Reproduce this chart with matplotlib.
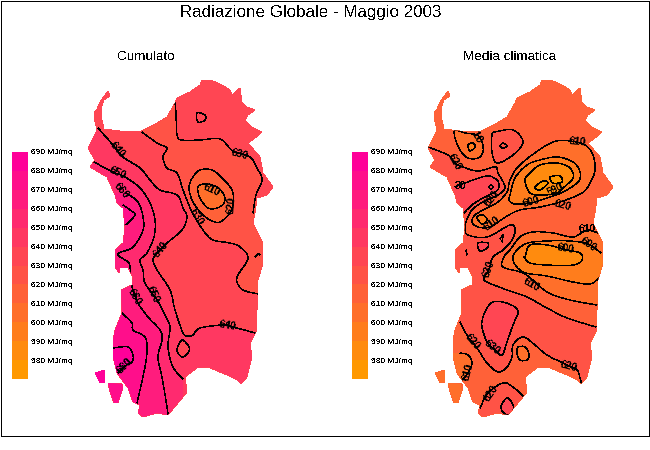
import matplotlib
matplotlib.use("Agg")
import matplotlib.pyplot as plt
from matplotlib.path import Path
from matplotlib.patches import PathPatch

plt.rcParams['font.family'] = ['Liberation Sans', 'DejaVu Sans']
plt.rcParams['text.antialiased'] = False

levels = [690, 680, 670, 660, 650, 640, 630, 620, 610, 600, 590, 580]
band_colors = ['#FF0099', '#FF0E8B', '#FF1C7D', '#FF2A6F', '#FF3861', '#FF4653',
               '#FF5346', '#FF6138', '#FF6F2A', '#FF7D1C', '#FF8B0E', '#FF9900']
band = dict(zip(levels, band_colors))

# coast
coast = [(140,132),(157,123),(167,117),(175,103),(177,98),(190,92),(200,85),(202,80),(213,81),(222,85),
         (230,90),(232,95),(240,88),(242,102),(247,107),(255,110),(248,115),(245,120),(252,127),(262,132),
         (255,138),(248,143),(260,157),(263,173),(273,187),(267,195),(257,198),(255,213),(253,223),(263,243),
         (262,257),(263,263),(258,280),(258,297),(257,310),(257,330),(250,343),(252,357),(247,377),(241,384),
         (237,380),(227,375),(208,367),(197,368),(185,377),(187,392),(168,415),(157,413),(143,417),(138,413),
         (140,405),(133,402),(128,388),(117,373),(113,357),(113,340),(115,330),(122,313),(121,290),(132,285),
         (133,277),(128,268),(120,268),(119,273),(115,267),(115,260),(115,250),(123,243),(125,227),(123,208),
         (117,203),(115,195),(107,177),(90,167),(95,160),(88,148),(97,130),(95,122),(94,113),(97,109),
         (100,102),(108,91),(110,96),(104,100),(101,108),(102,120),(104,129),(120,131)]
san_pietro = [(95,373),(105,370),(105,382),(100,383)]
sant_antioco = [(108,383),(122,384),(123,388),(118,403),(114,403),(110,392)]

# Cumulato contours
l_630_north = [(175,103),(176,113),(177,135),(182,140),(200,140),(220,139),(233,151),(250,157),(257,168),(262,180),(256,195),(253,213)]
l_630_west = [(142,132),(157,143),(167,148),(163,157),(167,168),(177,173),(182,187),(185,195),(192,212),(203,230),(213,240),(230,243),(240,247),(248,258),(238,275),(237,282),(243,290),(258,294)]
l_640 = [(98,128),(113,145),(123,157),(140,168),(150,180),(160,190),(177,195),(183,208),(187,217),(182,230),(167,243),(157,253),(153,260),(157,270),(170,290),(175,310),(183,333),(188,336),(193,335),(200,328),(223,325),(233,327),(255,333)]
l_650 = [(94,162),(113,172),(125,177),(140,188),(150,203),(155,220),(154,237),(147,253),(140,260),(143,270),(145,283),(157,300),(165,315),(170,327),(168,347),(173,367),(183,379)]
l_660 = [(126,193),(138,202),(143,217),(143,230),(133,247),(118,254),(128,262),(130,267),(132,287),(138,303),(148,317),(160,330),(162,340),(158,357),(162,377),(167,407),(168,414)]
l_670 = [(122,313),(132,323),(133,330),(145,337),(147,350),(145,367),(140,390),(137,403)]
l_670_blob = [(123,205),(133,212),(135,215),(128,223),(124,225)]
l_680 = [(113,348),(128,347),(133,355),(132,362),(125,366),(118,373)]
l_620 = [(200,170),(212,170),(222,178),(232,190),(233,203),(230,213),(220,222),(210,220),(200,212),(192,200),(189,187),(193,177)]
l_610 = [(198,187),(205,184),(217,187),(224,195),(224,203),(217,208),(208,208),(200,198)]
l_loop_se = [(182,340),(189,347),(188,353),(182,357),(177,350)]
l_loop_n = [(197,113),(205,115),(205,120),(198,122)]
l_loop_e = [(255,257),(258,254),(260,255)]

left_labels = [("640",117,150,-50),("650",118,173,-25),("660",121,191,-50),("610",212,190,-25),
               ("620",231,205,85),("630",197,217,-60),("630",240,154,-15),("640",161,249,50),
               ("660",135,297,-60),("650",153,295,-65),("640",228,326,-10),("680",125,366,45)]

# Media climatica contours
r_620_main = [(88,147),(108,155),(115,163),(123,167),(138,171),(155,167),(158,173),(165,187),(158,195),(143,202),(132,210),(126,222),(125,228),(128,235),(147,237),(170,225),(175,230),(172,240),(163,250),(153,257),(149,269),(144,278),(147,282),(167,290),(187,297),(207,308),(227,318),(256,327)]
r_620_south = [(120,322),(128,337),(137,348),(147,363),(158,372),(167,367),(172,357),(173,345),(183,337),(195,345),(207,355),(227,365),(237,370),(240,378),(242,385)]
r_620_tip = [(140,408),(148,393),(163,383),(173,387),(185,398)]
r_loop_a = [(152,135),(155,132),(173,130),(183,142),(173,155),(157,163),(152,152)]
r_loop_a_in = [(160,146),(163,143),(167,146),(163,148)]
r_630_west = [(115,187),(133,180),(148,176),(157,180),(159,187),(155,192),(143,198),(132,205),(124,213)]
r_630_tiny = [(149,187),(151,185),(153,187),(151,189)]
r_630_small = [(138,243),(148,243),(147,248),(140,251)]
r_630_pink = [(153,302),(163,302),(175,307),(178,313),(173,325),(167,342),(162,355),(155,350),(147,342),(142,327),(143,317),(147,308)]
r_630_tip = [(167,398),(173,405),(172,413),(165,414),(161,407)]
r_610_nw = [(115,130),(115,138),(120,150),(128,158),(138,158),(143,152),(142,142),(137,135),(125,133)]
r_600_nw = [(128,145),(133,143),(135,147),(130,151)]
r_610_big = [(230,141),(245,145),(253,155),(255,170),(250,183),(242,193),(220,202),(200,207),(180,210),(167,216),(150,227),(138,227),(132,222),(135,215),(147,208),(158,202),(167,192),(170,180),(177,168),(192,155),(213,142)]
r_600_ne = [(170,195),(175,178),(187,165),(200,160),(217,157),(233,162),(240,172),(238,182),(223,192),(207,198),(191,203),(175,204),(169,200)]
r_590_ne = [(185,180),(190,173),(200,165),(217,163),(230,168),(233,178),(223,188),(217,193),(203,195),(190,193)]
r_580_a = [(195,187),(203,181),(208,183),(200,190)]
r_580_b = [(210,177),(220,176),(222,182),(213,183)]
r_600_west = [(137,217),(143,215),(147,220),(142,224)]
r_610_south = [(258,233),(247,230),(233,237),(213,233),(193,232),(180,237),(170,250),(164,257),(163,267),(185,274),(207,292),(230,300),(257,305)]
r_600_south = [(261,253),(248,244),(230,241),(207,241),(188,243),(177,250),(173,260),(183,272),(207,276),(233,282),(250,284),(259,278)]
r_590_south = [(185,257),(190,245),(207,245),(227,250),(240,253),(242,260),(233,265),(207,265),(190,263),(184,257)]
r_610_lobe = [(120,353),(128,355),(132,363),(128,373),(120,382)]
r_610_se = [(178,347),(185,347),(189,354),(187,360),(180,360),(177,353)]
r_tick_d = [(160,239),(163,235),(162,242)]
r_tick_b = [(126,250),(127,255)]

right_labels = [("10",137,137,-60),("620",115,162,-60),("30",121,186,0),("620",152,198,50),
                ("610",237,142,-5),("610",152,224,35),("600",191,202,15),("590",215,190,25),
                ("620",223,205,-15),("610",247,229,0),("600",248,244,-35),("600",226,249,-10),
                ("630",149,269,70),("610",192,285,-30),("620",132,342,-50),("630",152,347,-40),
                ("610",128,372,75),("620",229,366,-15),("620",151,393,55)]


def curve(pts, loop=False):
    # bezier segments through the points
    verts, codes = [], []
    n = len(pts)
    last = n if loop else n - 1
    for i in range(last):
        if loop:
            p0, p1, p2, p3 = pts[i - 1], pts[i], pts[(i + 1) % n], pts[(i + 2) % n]
        else:
            p0, p1, p2, p3 = pts[max(i - 1, 0)], pts[i], pts[i + 1], pts[min(i + 2, n - 1)]
        c1 = (p1[0] + (p2[0] - p0[0]) / 6, p1[1] + (p2[1] - p0[1]) / 6)
        c2 = (p2[0] - (p3[0] - p1[0]) / 6, p2[1] - (p3[1] - p1[1]) / 6)
        verts += [c1, c2, p2]
        codes += [Path.CURVE4] * 3
    return verts, codes


def zone_path(*segs):
    # odd segments are contours (curved), even ones run straight outside the coast
    verts, codes = [segs[0][0]], [Path.MOVETO]
    for k, seg in enumerate(segs):
        if k % 2 == 0:
            v, c = curve(seg, loop=len(segs) == 1)
            verts += v
            codes += c
        else:
            verts += seg
            codes += [Path.LINETO] * len(seg)
    verts.append(verts[0])
    codes.append(Path.CLOSEPOLY)
    return Path(verts, codes)


def make_map(x0):
    ax = fig.add_axes([x0 / 650, 0, 210 / 650, 1])
    ax.set_xlim(80, 290)
    ax.set_ylim(450, 0)
    ax.axis("off")
    verts, codes = [], []
    for part in (coast, san_pietro, sant_antioco):
        verts += part + part[:1]
        codes += [Path.MOVETO] + [Path.LINETO] * (len(part) - 1) + [Path.CLOSEPOLY]
    return ax, PathPatch(Path(verts, codes), ec="none", antialiased=False, transform=ax.transData)


def fill(ax, clip, level, *segs):
    p = ax.add_patch(PathPatch(zone_path(*segs), fc=band[level], ec="none", antialiased=False))
    p.set_clip_path(clip)


def line(ax, clip, pts, loop=False):
    v, c = curve(pts, loop)
    p = ax.add_patch(PathPatch(Path([pts[0]] + v, [Path.MOVETO] + c), fc="none", ec="black", lw=0.3, antialiased=False))
    p.set_clip_path(clip)


def labels(ax, items):
    for s, x, y, rot in items:
        ax.text(x, y, s, fontsize=7.5, fontweight="bold", rotation=rot, ha="center", va="center",
                rotation_mode="anchor", color="black")


fig = plt.figure(figsize=(6.5, 4.5), dpi=100)

# outer frame
bg = fig.add_axes([0, 0, 1, 1])
bg.set_xlim(0, 650)
bg.set_ylim(450, 0)
bg.axis("off")
bg.plot([0.5, 648.5, 648.5, 0.5, 0.5], [0.5, 0.5, 436, 436, 0.5], color="black", lw=0.7, antialiased=False)
bg.text(311, 12, "Radiazione Globale - Maggio 2003", fontsize=12.2, ha="center", va="center")
bg.text(146, 57, "Cumulato", fontsize=9.7, ha="center", va="center")
bg.text(510, 57, "Media climatica", fontsize=9.7, ha="center", va="center")

# colour bars
for x0 in (12, 352):
    cb = fig.add_axes([x0 / 650, 1 - 379 / 450, 16 / 650, 227 / 450])
    cb.bar([0] * len(levels), [10] * len(levels), bottom=[v - 10 for v in levels], width=1,
           color=band_colors, antialiased=False)
    cb.set_xlim(-0.5, 0.5)
    cb.set_ylim(570, 690)
    cb.set_xticks([])
    cb.set_yticks(levels)
    cb.set_yticklabels([f"{v} MJ/mq" for v in levels], fontsize=6)
    cb.tick_params(axis="y", length=0, labelleft=False, labelright=True, pad=2)
    for s in cb.spines.values():
        s.set_visible(False)

# left map
ax, isl = make_map(80)
ax.add_patch(PathPatch(isl.get_path(), fc=band[640], ec="none", antialiased=False))
fill(ax, isl, 630, l_630_west, [(290,294),(290,213)], l_630_north[::-1], [(150,100)])
fill(ax, isl, 620, l_620)
fill(ax, isl, 610, l_610)
fill(ax, isl, 650, l_640, [(290,335),(290,440),(80,440),(80,128)])
fill(ax, isl, 640, l_loop_se)
fill(ax, isl, 660, l_650, [(183,440),(80,440),(80,162)])
fill(ax, isl, 670, l_660, [(168,440),(80,440),(80,193)])
fill(ax, isl, 680, l_670, [(137,440),(80,440),(80,313)])
fill(ax, isl, 680, l_670_blob, [(100,225),(100,205)])
fill(ax, isl, 690, l_680, [(80,373),(80,348)])
ax.fill(*zip(*san_pietro), color=band[690], lw=0, antialiased=False)
for c in (l_630_north, l_630_west, l_640, l_650, l_660, l_670, l_670_blob, l_680, l_loop_e):
    line(ax, isl, c)
for c in (l_620, l_610, l_loop_se, l_loop_n):
    line(ax, isl, c, loop=True)
labels(ax, left_labels)

# right map
ax, isl = make_map(420)
ax.add_patch(PathPatch(isl.get_path(), fc=band[620], ec="none", antialiased=False))
fill(ax, isl, 630, r_620_main, [(285,327),(285,385)], r_620_south[::-1], [(85,322),(80,147)])
fill(ax, isl, 630, r_620_tip, [(200,430),(130,430)])
fill(ax, isl, 630, r_loop_a)
fill(ax, isl, 640, r_630_west, [(90,213),(90,187)])
fill(ax, isl, 640, r_630_small)
fill(ax, isl, 640, r_630_pink)
fill(ax, isl, 640, r_630_tip)
fill(ax, isl, 610, r_610_nw)
fill(ax, isl, 600, r_600_nw)
fill(ax, isl, 610, r_610_big)
fill(ax, isl, 600, r_600_west)
fill(ax, isl, 600, r_600_ne)
fill(ax, isl, 590, r_590_ne)
fill(ax, isl, 580, r_580_a)
fill(ax, isl, 580, r_580_b)
fill(ax, isl, 610, r_610_south, [(285,305),(285,233)])
fill(ax, isl, 600, r_600_south, [(285,278),(285,253)])
fill(ax, isl, 590, r_590_south)
fill(ax, isl, 610, r_610_lobe, [(124,410),(85,410),(85,353)])
fill(ax, isl, 610, r_610_se)
for c in (r_620_main, r_620_south, r_620_tip, r_630_west, r_610_south, r_600_south, r_610_lobe, r_tick_d, r_tick_b):
    line(ax, isl, c)
for c in (r_loop_a, r_loop_a_in, r_630_tiny, r_630_small, r_630_pink, r_630_tip, r_610_nw, r_600_nw, r_610_big,
          r_600_ne, r_590_ne, r_580_a, r_580_b, r_600_west, r_590_south, r_610_se):
    line(ax, isl, c, loop=True)
labels(ax, right_labels)

fig.savefig("out.png", dpi=100)
